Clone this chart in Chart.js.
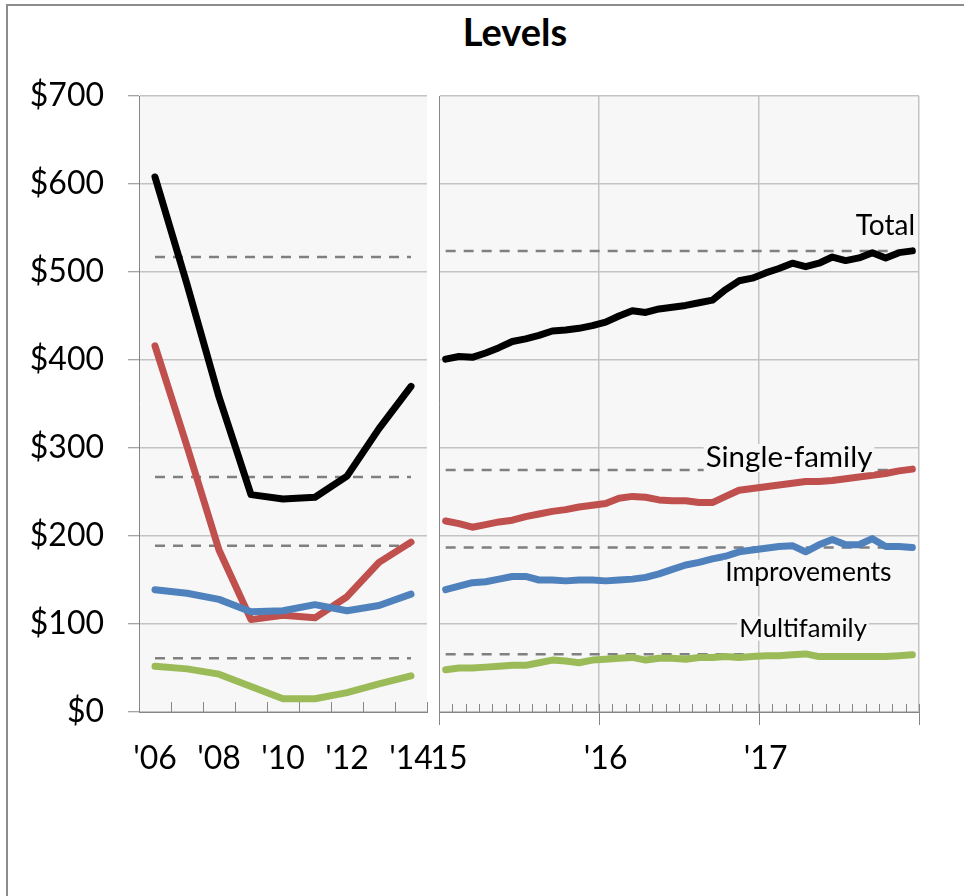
<!DOCTYPE html>
<html>
<head>
<meta charset="utf-8">
<title>Levels</title>
<script src="https://cdn.jsdelivr.net/npm/chart.js@4.4.1/dist/chart.umd.min.js"></script>
<style>
  html, body { margin: 0; padding: 0; background: #fff; overflow: hidden; }
  #page { position: relative; width: 964px; height: 896px; overflow: hidden; }
  #frame { position: absolute; left: 6px; top: 4px; width: 2000px; height: 2000px; border: 2px solid #8c8c8c; }
  #title { position: absolute; left: 415px; width: 200px; top: 12px; text-align: center;
           font: bold 38px Lato, sans-serif; line-height: 1; color: #000; }
  canvas { position: absolute; left: 0; top: 0; }
</style>
</head>
<body>
<div id="page">
  <div id="frame"></div>
  <div id="title">Levels</div>
  <canvas id="leftChart" width="964" height="896"></canvas>
  <canvas id="rightChart" width="964" height="896"></canvas>
</div>
<script>
// annual values, 2006-2014 ($ billions)
const years = ["'06", "'07", "'08", "'09", "'10", "'11", "'12", "'13", "'14"];
const totalAnnual = [608, 486, 358, 247, 242, 244, 268, 322, 370];
const singleAnnual = [416, 302, 184, 105, 110, 107, 131, 170, 193];
const improvAnnual = [139, 135, 128, 114, 115, 122, 115, 121, 134];
const multiAnnual = [52, 49, 43, 29, 15, 15, 22, 32, 41];

// monthly values, Jan 2015 - Dec 2017
const yearTicks = ["'15", "'16", "'17"];
const totalMonthly = [401, 404, 403, 408, 414, 421, 424, 428, 433, 434, 436, 439,
                      443, 450, 456, 454, 458, 460, 462, 465, 468, 480, 490, 493,
                      499, 504, 510, 506, 510, 517, 513, 516, 522, 516, 522, 524];
const singleMonthly = [217, 214, 210, 213, 216, 218, 222, 225, 228, 230, 233, 235,
                       237, 243, 245, 244, 241, 240, 240, 238, 238, 245, 252, 254,
                       256, 258, 260, 262, 262, 263, 265, 267, 269, 271, 274, 276];
const improvMonthly = [139, 143, 147, 148, 151, 154, 154, 150, 150, 149, 150, 150,
                       149, 150, 151, 153, 157, 162, 167, 170, 174, 177, 182, 184,
                       186, 188, 189, 182, 190, 196, 190, 190, 197, 188, 188, 187];
const multiMonthly = [48, 50, 50, 51, 52, 53, 53, 56, 59, 58, 56, 59,
                      60, 61, 62, 59, 61, 61, 60, 62, 62, 63, 62, 63,
                      64, 64, 65, 66, 63, 63, 63, 63, 63, 63, 64, 65];

// dashed reference levels: total, single-family, improvements, multifamily
const avgAnnual = [517, 267, 189, 61];
const avgMonthly = [524, 275, 187, 65.5];

const seriesNames = ['Total', 'Single-family', 'Improvements', 'Multifamily'];
const seriesColors = ['#000000', '#c0504d', '#4f81bd', '#9bbb59'];

const months = [];
yearTicks.forEach(y => { for (let m = 1; m <= 12; m++) months.push(y + '-' + m); });

const gridGrey = '#c3c3c3';
const axisGrey = '#878787';
const plotFill = '#f7f7f7';
const tickFont = { family: 'Lato', size: 32 };

// text labels on the right panel (position in month index / dollar value)
const labelSpots = [
  { text: 'Total', at: 35.2, value: 542, align: 'right', size: 28 },
  { text: 'Single-family', at: 25.75, value: 278, align: 'center', size: 29.5 },
  { text: 'Improvements', at: 27.2, value: 149, align: 'center', size: 26.5 },
  { text: 'Multifamily', at: 26.8, value: 85.5, align: 'center', size: 25.6 }
];

const buildDatasets = (labels, series, avgs) => {
  const lines = series.map((data, i) => ({
    label: seriesNames[i],
    data: data,
    borderColor: seriesColors[i],
    borderWidth: 7,
    borderCapStyle: 'round',
    borderJoinStyle: 'round',
    pointRadius: 0,
    tension: 0,
    order: [1, 3, 2, 4][i]
  }));
  const dashes = avgs.map((v, i) => ({
    label: seriesNames[i] + ' average',
    data: [{ x: labels[0], y: v }, { x: labels[labels.length - 1], y: v }],
    borderColor: '#808080',
    borderWidth: 2.5,
    borderDash: [10, 8],
    pointRadius: 0,
    order: 10
  }));
  return lines.concat(dashes);
};

// light grey plot area
const plotBackground = {
  id: 'plotBackground',
  beforeDraw(chart) {
    const { ctx, chartArea: a } = chart;
    ctx.save();
    ctx.fillStyle = plotFill;
    ctx.fillRect(a.left, a.top, a.right - a.left, a.bottom - a.top);
    ctx.restore();
  }
};

// small tick marks pointing into the plot, long ones below at year breaks
const makeTicks = (up, down, majorEvery) => ({
  id: 'innerTicks',
  afterDraw(chart) {
    const { ctx } = chart;
    const x = chart.scales.x;
    const base = chart.chartArea.bottom;
    const n = chart.data.labels.length;
    ctx.save();
    ctx.strokeStyle = axisGrey;
    ctx.lineWidth = 1;
    for (let i = 0; i <= n; i++) {
      const px = Math.round(x.getPixelForValue(i - 0.5)) + 0.5;
      const major = majorEvery && i % majorEvery === 0;
      ctx.beginPath();
      ctx.moveTo(px, base - up);
      ctx.lineTo(px, major ? base + down : base);
      ctx.stroke();
    }
    ctx.restore();
  }
});

const seriesLabels = {
  id: 'seriesLabels',
  afterDatasetsDraw(chart) {
    const { ctx } = chart;
    const { x, y } = chart.scales;
    labelSpots.forEach(s => {
      ctx.save();
      ctx.font = s.size + 'px Lato';
      ctx.textAlign = s.align;
      ctx.textBaseline = 'alphabetic';
      const px = x.getPixelForValue(s.at);
      const py = y.getPixelForValue(s.value);
      const w = ctx.measureText(s.text).width;
      const left = s.align === 'right' ? px - w : s.align === 'center' ? px - w / 2 : px;
      ctx.fillStyle = plotFill;
      ctx.fillRect(left - 2, py - s.size * 0.72 - 2, w + 4, s.size * 0.95);
      ctx.fillStyle = '#000';
      ctx.fillText(s.text, px, py);
      ctx.restore();
    });
  }
};

new Chart(document.getElementById('leftChart'), {
  type: 'line',
  data: {
    labels: years,
    datasets: buildDatasets(years, [totalAnnual, singleAnnual, improvAnnual, multiAnnual], avgAnnual)
  },
  options: {
    responsive: false,
    animation: false,
    layout: { padding: { left: 0, right: 537, top: 96, bottom: 0 } },
    plugins: { legend: { display: false }, tooltip: { enabled: false } },
    scales: {
      x: {
        offset: true,
        grid: { display: true, color: 'transparent', drawTicks: false },
        border: { color: axisGrey, width: 1 },
        ticks: {
          autoSkip: false, maxRotation: 0, color: '#000', font: tickFont, padding: 27,
          callback: (v, i) => i % 2 === 0 ? years[i] : ''
        },
        afterFit: s => { s.height = 184; }
      },
      y: {
        min: 0, max: 700,
        ticks: { stepSize: 100, color: '#000', font: tickFont, padding: 24, callback: v => '$' + v },
        grid: { color: gridGrey, lineWidth: 1.5, tickLength: 11, tickColor: axisGrey, tickWidth: 1 },
        border: { color: axisGrey, width: 1 },
        afterFit: s => { s.width = 139; }
      }
    }
  },
  plugins: [plotBackground, makeTicks(10, 0, 0)]
});

new Chart(document.getElementById('rightChart'), {
  type: 'line',
  data: {
    labels: months,
    datasets: buildDatasets(months, [totalMonthly, singleMonthly, improvMonthly, multiMonthly], avgMonthly)
  },
  options: {
    responsive: false,
    animation: false,
    layout: { padding: { left: 439, right: 45, top: 96, bottom: 0 } },
    plugins: { legend: { display: false }, tooltip: { enabled: false } },
    scales: {
      x: {
        offset: true,
        grid: {
          offset: true, drawTicks: false, lineWidth: 1.5,
          color: c => (c.index === 12 || c.index === 24 || c.type === 'scale') ? gridGrey : 'transparent'
        },
        border: { color: axisGrey, width: 1 },
        ticks: {
          autoSkip: false, maxRotation: 0, color: '#000', font: tickFont, padding: 27,
          callback: (v, i) => i % 12 === 0 ? yearTicks[i / 12] : ''
        },
        afterFit: s => { s.height = 184; }
      },
      y: {
        min: 0, max: 700,
        ticks: { display: false, stepSize: 100 },
        grid: { color: gridGrey, lineWidth: 1.5, drawTicks: false },
        border: { color: axisGrey, width: 1 },
        afterFit: s => { s.width = 0; }
      }
    }
  },
  plugins: [plotBackground, makeTicks(8, 13, 12), seriesLabels]
});
</script>
</body>
</html>
